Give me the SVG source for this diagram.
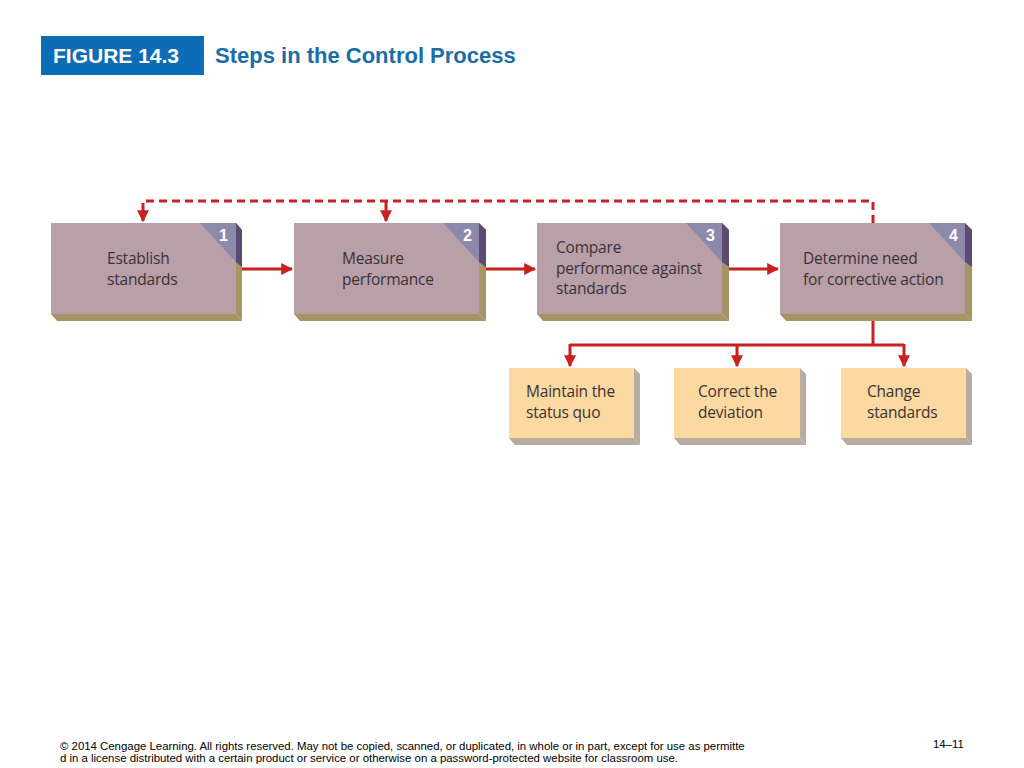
<svg xmlns="http://www.w3.org/2000/svg" width="1024" height="768" viewBox="0 0 1024 768">
<defs>
<style>
.face{fill:#b89fa8}
.side{fill:#a69466}
.sidet{fill:#5b4b72}
.bot{fill:#a69466}
.tri{fill:#8d89aa}
.num{font:bold 16px "Liberation Sans",sans-serif;fill:#fff}
.t{font:15.5px "Open Sans","Noto Sans",sans-serif;fill:#3b3236;letter-spacing:-0.2px}
.oface{fill:#fcd9a0}
.oside{fill:#b8aba0}
.c{stroke:#c8211f;stroke-width:3;fill:none}
.f{font:11.4px "Liberation Sans",sans-serif;fill:#000}
</style>
<marker id="a" viewBox="0 0 10 10" refX="9" refY="5" markerWidth="4" markerHeight="4" orient="auto"><path d="M0,0L10,5L0,10z" fill="#c8211f"/></marker>
</defs>
<rect width="1024" height="768" fill="#fff"/>
<rect x="41" y="36" width="163" height="39" fill="#0c6cb6"/>
<text x="53" y="63" style="font:bold 21px 'Liberation Sans',sans-serif;fill:#fff">FIGURE 14.3</text>
<text x="215" y="63" style="font:bold 22px 'Liberation Sans',sans-serif;fill:#1a6ea8">Steps in the Control Process</text>

<g id="n1">
<polygon class="bot" points="51,314 236,314 242,321 57,321"/>
<polygon class="side" points="236,223 242,230 242,321 236,314"/>
<polygon class="sidet" points="236,223 242,230 242,267 236,262"/>
<rect class="face" x="51" y="223" width="185" height="91"/>
<polygon class="tri" points="200,223 236,223 236,262"/>
<text class="num" x="219" y="241">1</text>
<text class="t" x="107" y="264">Establish</text><text class="t" x="107" y="285">standards</text>
</g>
<g id="n2">
<polygon class="bot" points="294,314 479,314 486,321 300,321"/>
<polygon class="side" points="479,223 486,230 486,321 479,314"/>
<polygon class="sidet" points="479,223 486,230 486,267 479,262"/>
<rect class="face" x="294" y="223" width="185" height="91"/>
<polygon class="tri" points="443,223 479,223 479,262"/>
<text class="num" x="463" y="241">2</text>
<text class="t" x="342" y="264">Measure</text><text class="t" x="342" y="285">performance</text>
</g>
<g id="n3">
<polygon class="bot" points="537,314 722,314 729,321 543,321"/>
<polygon class="side" points="722,223 729,230 729,321 722,314"/>
<polygon class="sidet" points="722,223 729,230 729,267 722,262"/>
<rect class="face" x="537" y="223" width="185" height="91"/>
<polygon class="tri" points="686,223 722,223 722,262"/>
<text class="num" x="706" y="241">3</text>
<text class="t" x="556" y="253">Compare</text><text class="t" x="556" y="274">performance against</text><text class="t" x="556" y="294">standards</text>
</g>
<g id="n4">
<polygon class="bot" points="780,314 965,314 972,321 786,321"/>
<polygon class="side" points="965,223 972,230 972,321 965,314"/>
<polygon class="sidet" points="965,223 972,230 972,267 965,262"/>
<rect class="face" x="780" y="223" width="185" height="91"/>
<polygon class="tri" points="929,223 965,223 965,262"/>
<text class="num" x="949" y="241">4</text>
<text class="t" x="803" y="264">Determine need</text><text class="t" x="803" y="285">for corrective action</text>
</g>
<g id="o1">
<polygon class="oside" points="509,438 634,438 640,445 515,445 "/>
<polygon class="oside" points="634,368 640,374 640,445 634,438"/>
<rect class="oface" x="509" y="368" width="125" height="70"/>
<text class="t" x="526" y="397">Maintain the</text><text class="t" x="526" y="418">status quo</text>
</g>
<g id="o2">
<polygon class="oside" points="674,438 800,438 806,445 680,445"/>
<polygon class="oside" points="800,368 806,374 806,445 800,438"/>
<rect class="oface" x="674" y="368" width="126" height="70"/>
<text class="t" x="698" y="397">Correct the</text><text class="t" x="698" y="418">deviation</text>
</g>
<g id="o3">
<polygon class="oside" points="841,438 966,438 972,445 847,445"/>
<polygon class="oside" points="966,368 972,374 972,445 966,438"/>
<rect class="oface" x="841" y="368" width="125" height="70"/>
<text class="t" x="867" y="397">Change</text><text class="t" x="867" y="418">standards</text>
</g>
<g id="connectors">
<path class="c" d="M242,269H292" marker-end="url(#a)"/>
<path class="c" d="M486,269H535" marker-end="url(#a)"/>
<path class="c" d="M729,269H778" marker-end="url(#a)"/>
<path class="c" d="M873,223V201H143V221" stroke-dasharray="8,5" marker-end="url(#a)"/>
<path class="c" d="M386,201V221" marker-end="url(#a)"/>
<path class="c" d="M873,321V345"/>
<path class="c" d="M570,345H904"/>
<path class="c" d="M570,344V366" marker-end="url(#a)"/>
<path class="c" d="M737,344V366" marker-end="url(#a)"/>
<path class="c" d="M904,344V366" marker-end="url(#a)"/>
</g>
<text x="60" y="750" class="f">© 2014 Cengage Learning. All rights reserved. May not be copied, scanned, or duplicated, in whole or in part, except for use as permitte</text>
<text x="60" y="762" class="f">d in a license distributed with a certain product or service or otherwise on a password-protected website for classroom use.</text>
<text x="933" y="748" class="f">14–11</text>
</svg>
